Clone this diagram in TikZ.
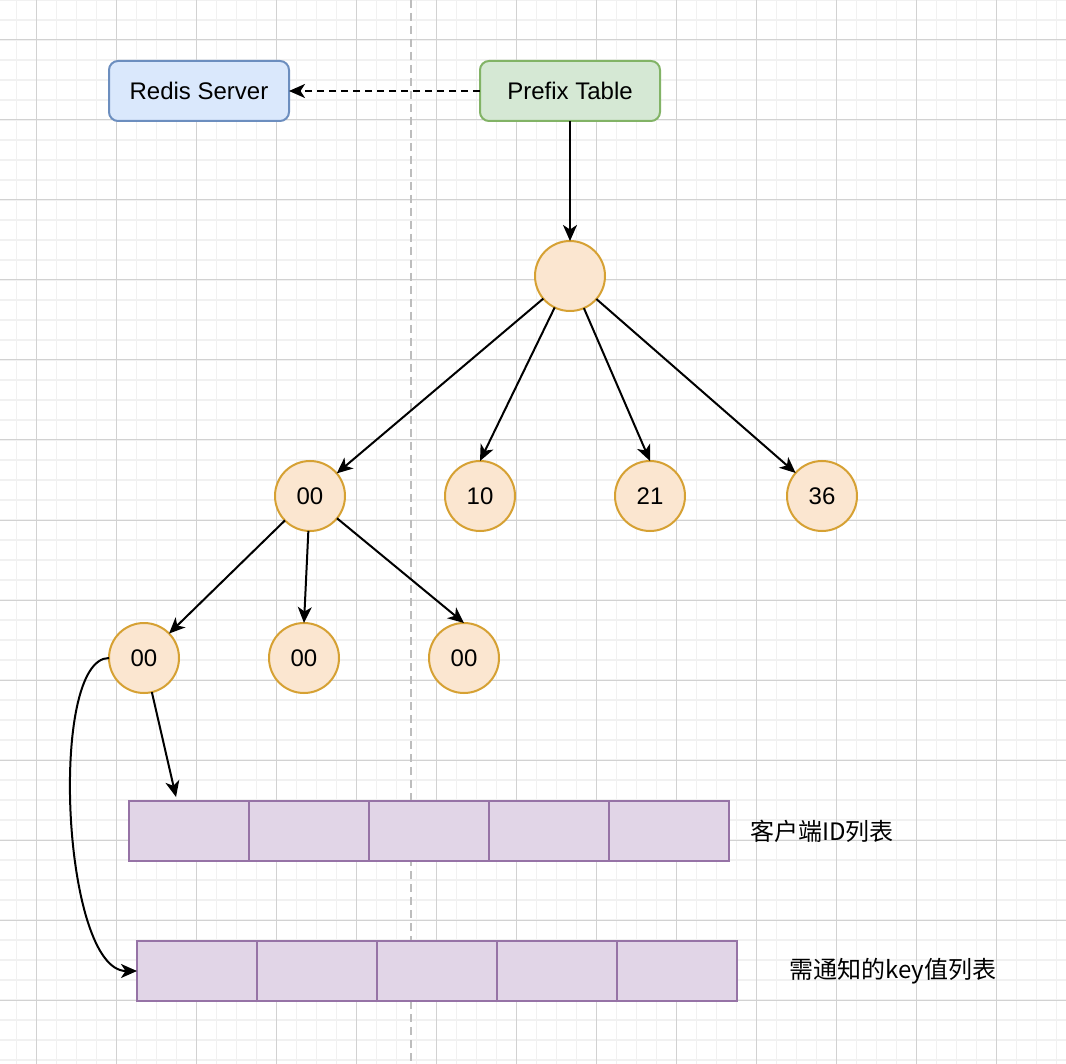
\documentclass[tikz,border=0pt]{standalone}
\usepackage{fontspec}
\setmainfont{Liberation Sans}
\newfontfamily\cjk{Noto Sans CJK SC}
\usetikzlibrary{arrows.meta}
\definecolor{gridminor}{HTML}{F1F1F1}
\definecolor{gridmajor}{HTML}{D2D2D2}
\definecolor{blueF}{HTML}{DAE8FC}
\definecolor{blueS}{HTML}{6C8EBF}
\definecolor{greenF}{HTML}{D5E8D4}
\definecolor{greenS}{HTML}{82B366}
\definecolor{orangeF}{HTML}{FBE6D0}
\definecolor{orangeS}{HTML}{D6A133}
\definecolor{purpleF}{HTML}{E1D5E7}
\definecolor{purpleS}{HTML}{9673A6}
\definecolor{sepline}{HTML}{BDBDBD}
\tikzset{
  txt/.style={font=\fontsize{24pt}{28pt}\selectfont},
  box/.style={txt, rounded corners=9pt, line width=2pt, minimum width=180pt, minimum height=60pt, inner sep=0pt, outer sep=0pt},
  bluebox/.style={box, draw=blueS, fill=blueF},
  greenbox/.style={box, draw=greenS, fill=greenF},
  tnode/.style={txt, circle, draw=orangeS, fill=orangeF, line width=2pt, minimum size=70pt, inner sep=0pt, outer sep=0pt},
  cell/.style={rectangle, draw=purpleS, fill=purpleF, line width=2pt, minimum width=120pt, minimum height=60pt, inner sep=0pt, outer sep=0pt},
  conn/.style={line width=2pt, -{Stealth[length=16pt, width=14pt, inset=4.5pt]}},
  lbl/.style={font=\cjk\fontsize{24pt}{28pt}\selectfont, inner sep=0pt},
}
\begin{document}
\begin{tikzpicture}[x=1pt, y=-1pt]
\useasboundingbox (0,0) rectangle (1066,1064);
\fill[white] (0,0) rectangle (1066,1064);
% grid
\foreach \i in {0,...,53} {
  \draw[gridminor, line width=1.6pt] ({16.5+20*\i},0) -- ({16.5+20*\i},1064);
}
\foreach \j in {0,...,53} {
  \draw[gridminor, line width=1.6pt] (0,{20*\j}) -- (1066,{20*\j});
}
\foreach \i in {0,...,13} {
  \draw[gridmajor, line width=1pt] ({36.5+80*\i},0) -- ({36.5+80*\i},1064);
}
\foreach \j in {0,...,13} {
  \draw[gridmajor, line width=1pt] (0,{40+80*\j}) -- (1066,{40+80*\j});
}
% separator
\draw[sepline, line width=2pt, dash pattern=on 8pt off 5pt] (411,0) -- (411,1064);

% boxes
\node[bluebox] (redis) at (199,91) {Redis Server};
\node[greenbox] (prefix) at (570,91) {Prefix Table};

% tree
\node[tnode] (root) at (570,276) {};
\node[tnode] (n00) at (310,496) {00};
\node[tnode] (n10) at (480,496) {10};
\node[tnode] (n21) at (650,496) {21};
\node[tnode] (n36) at (822,496) {36};
\node[tnode] (m1) at (144,658) {00};
\node[tnode] (m2) at (304,658) {00};
\node[tnode] (m3) at (464,658) {00};

% arrays
\foreach \k in {1,...,5} {
  \node[cell] (a\k) at ({69+120*\k},831) {};
  \node[cell] (b\k) at ({77+120*\k},971) {};
}
\node[lbl] (la) at (822,831) {客户端ID列表};
\node[lbl] (lb) at (893,971) {需通知的key值列表};

% connectors
\draw[conn, dash pattern=on 7pt off 5pt] (prefix) -- (redis);
\draw[conn] (prefix) -- (root);
\draw[conn] (root) -- (n00);
\draw[conn] (root) -- (n10.north);
\draw[conn] (root) -- (n21.north);
\draw[conn] (root) -- (n36);
\draw[conn] (n00) -- (m1);
\draw[conn] (n00) -- (m2.north);
\draw[conn] (n00) -- (m3.north);
\coordinate (t1) at (176,797);
\draw[conn] (m1) -- (t1);
\draw[conn] (m1.west) .. controls (48,658) and (62,971) .. (b1.west);
\end{tikzpicture}
\end{document}
